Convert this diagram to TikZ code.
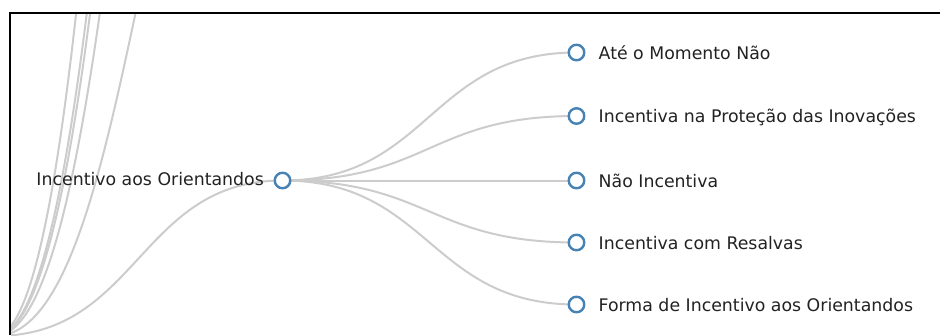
\documentclass[tikz,border=0pt]{standalone}
\usepackage{fontspec}
\setmainfont{DejaVu Sans}
\usetikzlibrary{calc,backgrounds}
\definecolor{linkgray}{HTML}{CCCCCC}
\definecolor{nodeblue}{HTML}{4682B4}
\definecolor{labeltext}{HTML}{222222}
\tikzset{
  tnode/.style={circle, draw=nodeblue, fill=white, line width=2.4bp, minimum size=15.5bp, inner sep=0pt},
  link/.style={draw=linkgray, line width=2bp},
  labelfont/.style={font=\fontsize{17.4}{20}\selectfont, text=labeltext, inner sep=0pt},
  leaflabel/.style={labelfont, anchor=base west},
  mainlabel/.style={labelfont, anchor=base east},
  frameline/.style={draw=black, line width=2.4bp}
}
\begin{document}
\begin{tikzpicture}[x=1bp,y=-1bp]
\useasboundingbox (0,0) rectangle (940,335);
% off-screen parent and siblings
\coordinate (root) at (-5,336);
\coordinate (s1) at (282.5,-340);
\coordinate (s2) at (282.5,-955);
\coordinate (s3) at (282.5,-1276);
\coordinate (s4) at (282.5,-1413);
\coordinate (s5) at (282.5,-1983);
% visible nodes
\node[tnode] (main) at (282.5,180.5) {};
\node[tnode] (c1) at (576.5,52.5) {};
\node[tnode] (c2) at (576.5,116) {};
\node[tnode] (c3) at (576.5,180.5) {};
\node[tnode] (c4) at (576.5,242.5) {};
\node[tnode] (c5) at (576.5,304.5) {};
% labels
\node[mainlabel] (lmain) at (264,185.5) {Incentivo aos Orientandos};
\node[leaflabel] (l1) at (598.5,59) {Até o Momento Não};
\node[leaflabel] (l2) at (598.5,122.5) {Incentiva na Proteção das Inovações};
\node[leaflabel] (l3) at (598.5,187) {Não Incentiva};
\node[leaflabel] (l4) at (598.5,249) {Incentiva com Resalvas};
\node[leaflabel] (l5) at (598.5,311) {Forma de Incentivo aos Orientandos};
% links
\begin{scope}[on background layer]
  \clip (11,14.4) rectangle (940,335);
  \foreach \a/\b in {root/main,root/s1,root/s2,root/s3,root/s4,root/s5,main/c1,main/c2,main/c3,main/c4,main/c5}{
    \draw[link] let \p1=(\a.center), \p2=(\b.center) in
      (\p1) .. controls ({0.5*\x1+0.5*\x2},\y1) and ({0.5*\x1+0.5*\x2},\y2) .. (\p2);
  }
\end{scope}
% frame
\draw[frameline] (9.7,335) -- (9.7,13.2) -- (940,13.2);
\end{tikzpicture}
\end{document}
